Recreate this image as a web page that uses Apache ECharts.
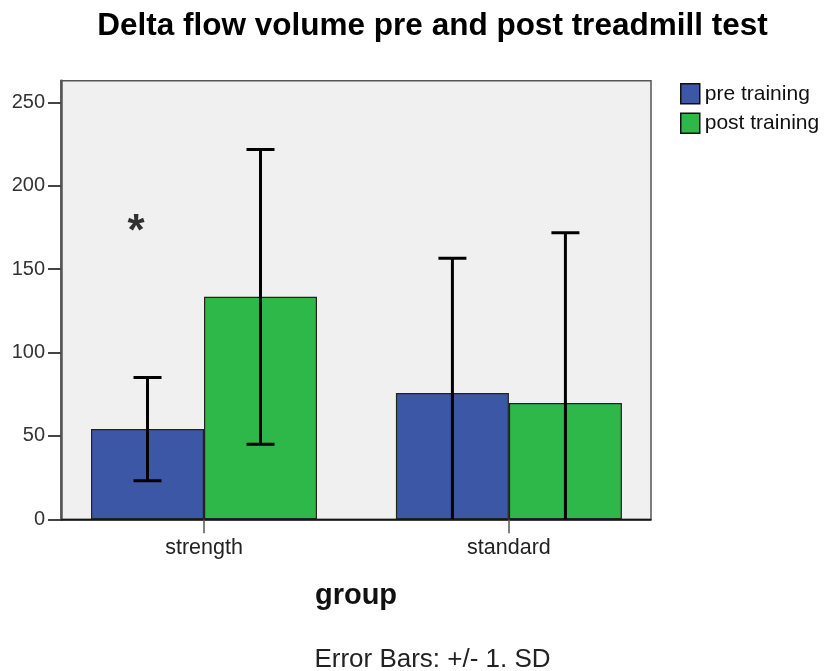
<!DOCTYPE html>
<html>
<head>
<meta charset="utf-8">
<script src="https://cdn.jsdelivr.net/npm/echarts@6/dist/echarts.min.js"></script>
<style>html,body{margin:0;padding:0;background:#fff}#c{width:824px;height:671px}</style>
</head>
<body>
<div id="c"></div>
<script>
const categories = ['strength', 'standard'];
const categoryIndex = [0, 1];
const seriesNames = ['pre training', 'post training'];
const preMean = [54.1, 75.7];
const preSD = [31.0, 80.8];
const postMean = [133.4, 69.7];
const postSD = [88.4, 102.1];
const yTicks = [0, 50, 100, 150, 200, 250];
const asteriskPos = [-0.223, 178];

const FONT = '"Liberation Sans", Arial, sans-serif';
const BLUE = '#3d57a7';
const GREEN = '#2fb84a';
const BAR_W = 113;

function pairs(vals) { return vals.map((v, i) => [categoryIndex[i], v]); }
function errData(means, sds) {
  return means.map((m, i) => [categoryIndex[i], m - sds[i], m + sds[i]]);
}

function errRender(offset) {
  return function (params, api) {
    const idx = api.value(0);
    const lo = api.coord([idx, api.value(1)]);
    const hi = api.coord([idx, api.value(2)]);
    const x = lo[0] + offset;
    const cap = 14;
    const style = { stroke: '#000', lineWidth: 3 };
    return {
      type: 'group',
      children: [
        { type: 'line', shape: { x1: x, y1: lo[1], x2: x, y2: hi[1] }, style },
        { type: 'line', shape: { x1: x - cap, y1: hi[1], x2: x + cap, y2: hi[1] }, style },
        { type: 'line', shape: { x1: x - cap, y1: lo[1], x2: x + cap, y2: lo[1] }, style }
      ]
    };
  };
}

const chart = echarts.init(document.getElementById('c'));
chart.setOption({
  animation: false,
  backgroundColor: '#fff',
  title: [
    { text: 'Delta flow volume pre and post treadmill test', left: 432.5, top: 10, padding: 0, textAlign: 'center',
      textStyle: { fontFamily: FONT, fontWeight: 'bold', fontSize: 31.5, color: '#000' } },
    { text: 'Error Bars: +/- 1. SD', left: 432.5, top: 647, padding: 0, textAlign: 'center',
      textStyle: { fontFamily: FONT, fontWeight: 'normal', fontSize: 26, color: '#222' } }
  ],
  legend: {
    data: seriesNames,
    orient: 'vertical',
    left: 680,
    top: 83,
    padding: 0,
    itemWidth: 19,
    itemHeight: 20,
    itemGap: 8,
    icon: 'rect',
    itemStyle: { borderColor: '#111', borderWidth: 1.5 },
    textStyle: { fontFamily: FONT, fontSize: 21, color: '#111', lineHeight: 20, padding: [0, 0, 0, 0] }
  },
  grid: {
    left: 61, right: 173, top: 80.7, bottom: 151.7,
    show: true, backgroundColor: '#f0f0f0', borderColor: '#555', borderWidth: 1.5
  },
  xAxis: {
    type: 'value',
    min: -0.469,
    max: 1.466,
    splitLine: { show: false },
    name: 'group',
    nameLocation: 'middle',
    nameGap: 62,
    nameTextStyle: { fontFamily: FONT, fontWeight: 'bold', fontSize: 29, color: '#111' },
    axisLine: { show: true, onZero: false, lineStyle: { color: '#000', width: 1.5 } },
    axisTick: { show: true, customValues: categoryIndex, length: 14, lineStyle: { color: '#555', width: 1.5 } },
    axisLabel: {
      customValues: categoryIndex,
      fontFamily: FONT, fontSize: 21.5, color: '#222', margin: 18,
      formatter: v => categories[Math.round(v)] || ''
    }
  },
  yAxis: {
    type: 'value',
    min: 0,
    max: 263,
    interval: 50,
    splitLine: { show: false },
    axisLine: { show: true, onZero: false, lineStyle: { color: '#555', width: 2.5 } },
    axisTick: { show: true, customValues: yTicks, length: 13, lineStyle: { color: '#444', width: 2 } },
    axisLabel: {
      customValues: yTicks,
      fontFamily: FONT, fontSize: 20, color: '#333', margin: 16
    }
  },
  series: [
    {
      name: seriesNames[0], type: 'bar', data: pairs(preMean), barWidth: BAR_W, barGap: '0%',
      itemStyle: { color: BLUE, borderColor: '#222', borderWidth: 1.2 }
    },
    {
      name: seriesNames[1], type: 'bar', data: pairs(postMean), barWidth: BAR_W, barGap: '0%',
      itemStyle: { color: GREEN, borderColor: '#222', borderWidth: 1.2 }
    },
    {
      type: 'custom', name: 'preErr', clip: true, z: 5,
      renderItem: errRender(-BAR_W / 2),
      data: errData(preMean, preSD), encode: { x: 0, y: [1, 2] }
    },
    {
      type: 'custom', name: 'postErr', clip: true, z: 5,
      renderItem: errRender(BAR_W / 2),
      data: errData(postMean, postSD), encode: { x: 0, y: [1, 2] }
    },
    {
      type: 'scatter', name: 'significance', data: [asteriskPos], z: 6,
      symbol: 'circle', symbolSize: 1, itemStyle: { color: 'rgba(0,0,0,0)' },
      label: { show: true, position: 'inside', formatter: '*', fontFamily: FONT, fontWeight: 'bold', fontSize: 44, color: '#000', offset: [0, 10] }
    }
  ]
});
</script>
</body>
</html>
